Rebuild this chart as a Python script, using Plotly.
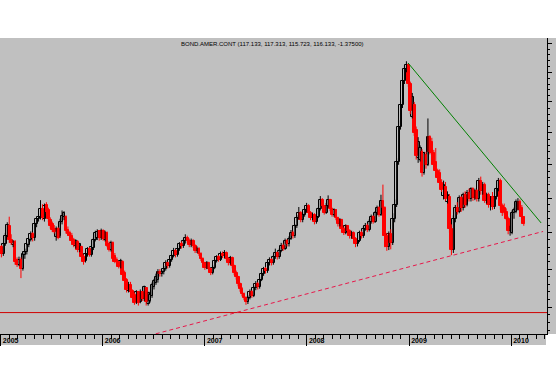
import numpy as np
import pandas as pd
import plotly.graph_objects as go

# weekly candles, Jan 2005 - Feb 2010
dates = pd.date_range("2005-01-03", periods=268, freq="7D")

opens = [113.0,112.0,113.4,114.6,116.0,114.0,113.3,113.7,111.2,110.6,111.3,110.0,111.9,112.4,113.3,114.0,114.9,114.3,116.2,116.9,
117.2,118.4,116.9,119.0,118.2,116.8,116.2,115.6,114.4,115.6,114.5,116.6,117.2,117.3,115.4,115.0,114.6,114.0,113.1,113.7,
112.6,113.0,111.7,111.1,112.1,112.8,111.9,112.9,114.0,114.3,115.2,114.3,115.3,114.0,115.0,113.4,112.6,113.6,111.8,111.3,
111.0,110.4,110.9,109.5,108.5,107.1,107.9,107.1,106.6,105.7,106.9,105.6,107.0,106.0,107.5,105.4,105.8,106.4,107.6,108.2,
108.6,109.6,109.3,109.6,110.0,110.8,110.4,111.3,111.8,112.5,111.9,112.8,113.4,113.1,113.8,114.3,113.9,113.3,113.9,113.2,
112.5,112.8,112.1,111.4,110.8,110.2,110.8,110.0,109.5,110.2,111.1,111.6,111.3,112.1,111.8,112.2,111.4,110.8,111.5,110.4,
109.5,108.9,108.0,107.3,106.7,106.2,105.7,106.2,107.0,106.5,107.5,108.0,107.6,108.6,109.4,110.0,109.7,110.8,111.3,110.8,
111.6,112.2,111.6,112.5,113.2,112.8,113.9,113.4,114.2,115.0,114.5,115.9,117.1,117.9,116.8,117.6,118.2,118.9,117.9,117.1,
117.6,116.5,117.3,118.4,119.7,118.8,117.9,118.9,119.7,118.4,117.6,118.2,117.1,116.2,116.8,115.6,115.0,115.9,115.3,114.5,
115.0,114.2,113.4,113.9,115.0,114.5,115.6,116.0,115.4,116.6,117.2,116.6,117.8,118.5,117.6,119.6,118.5,114.5,113.0,114.8,
113.6,117.0,119.0,125.5,131.0,134.5,138.5,140.6,141.3,138.0,132.6,134.5,130.5,126.0,125.8,127.0,123.8,126.5,125.0,129.3,
128.5,126.8,125.5,124.0,123.8,122.2,120.3,121.6,119.5,120.2,115.6,112.6,117.0,118.6,118.0,120.0,118.5,120.5,119.0,120.8,
119.8,121.3,120.0,121.0,119.8,122.6,121.0,122.0,119.6,120.5,119.0,120.2,118.7,120.2,121.3,122.6,118.8,118.5,118.0,117.0,
115.2,115.0,117.8,118.0,118.5,119.5,118.6,117.2]

highs = [113.3,113.6,115.0,116.5,117.3,114.8,114.0,114.0,111.6,111.7,111.6,112.3,112.8,113.6,114.3,115.2,115.1,116.5,117.1,117.6,
119.7,119.1,119.2,119.4,118.6,117.2,116.6,116.1,115.9,115.8,117.0,118.2,118.1,117.5,115.9,115.3,115.0,114.3,114.1,114.0,
113.6,113.2,112.0,112.5,113.0,113.0,113.2,114.3,115.3,115.5,115.4,115.6,115.5,115.3,115.2,113.8,113.9,113.8,112.2,111.6,
111.1,111.4,111.2,109.8,108.8,108.3,108.3,107.3,106.9,107.2,107.1,107.3,107.1,107.8,107.6,107.0,107.0,108.2,108.7,109.4,
110.0,110.0,109.9,110.4,111.2,111.0,111.6,112.1,112.9,112.7,113.1,113.7,113.8,114.1,114.8,114.6,114.2,114.2,114.1,113.4,
113.1,113.0,112.3,111.6,111.0,111.1,111.0,110.2,110.5,111.4,111.9,111.9,112.4,112.4,112.6,112.4,111.6,111.8,111.7,110.6,
109.8,109.1,108.2,107.6,106.9,106.4,106.5,107.3,107.2,107.8,108.4,108.3,108.9,109.7,110.3,110.3,111.2,111.6,111.5,111.9,
112.8,112.4,112.8,113.6,113.5,114.2,114.1,114.5,115.4,115.3,116.2,117.5,118.7,118.1,117.9,118.6,119.3,119.1,118.1,117.9,
117.8,117.6,118.7,120.3,120.0,119.0,119.3,120.4,119.9,118.6,118.5,118.4,117.3,117.1,117.0,115.9,116.2,116.1,115.5,115.3,
115.2,114.4,114.2,115.3,115.3,115.9,116.4,116.3,116.9,117.6,117.5,118.1,118.9,118.8,120.5,122.0,118.8,115.0,115.2,115.5,
117.8,119.8,126.0,132.0,135.0,139.0,141.2,141.9,141.6,138.4,136.5,135.0,131.0,129.3,128.0,127.4,127.0,127.0,132.3,129.6,
129.2,127.3,127.6,124.4,124.3,122.8,122.6,122.4,121.0,120.6,116.2,117.5,119.0,119.4,120.4,120.3,120.8,121.0,121.2,121.4,
121.6,121.6,121.4,121.3,123.0,123.2,122.4,122.3,120.8,120.8,120.3,120.9,120.4,121.6,123.0,122.9,119.2,119.2,118.5,117.3,
116.0,118.2,118.6,119.8,120.0,119.8,119.0,117.4]

lows = [111.6,111.8,113.2,114.4,113.6,113.3,113.0,110.6,110.3,110.4,108.8,109.8,111.4,112.0,113.0,113.8,113.8,113.9,115.8,116.6,
116.9,116.8,116.6,117.7,116.5,115.6,115.1,114.9,113.9,114.1,114.3,116.2,116.8,114.9,114.6,114.3,113.6,113.0,112.8,112.3,
112.3,111.3,110.6,110.9,111.7,111.7,111.7,112.6,113.8,114.0,113.9,114.0,113.9,113.8,113.0,112.4,112.4,111.1,110.8,110.7,
110.1,110.1,108.9,108.0,106.9,106.9,106.7,105.9,105.3,105.4,105.2,105.5,105.8,105.8,105.2,105.2,105.6,106.2,107.3,107.9,
108.2,109.0,109.0,109.3,109.8,110.1,110.2,111.0,111.6,111.6,111.7,112.5,112.8,112.9,113.5,113.6,113.0,113.0,112.9,112.2,
112.2,111.8,111.1,110.5,109.9,110.0,109.7,109.2,109.3,110.0,110.9,111.0,111.1,111.5,111.5,111.1,110.5,110.6,110.1,109.2,
108.6,107.7,107.0,106.4,105.9,105.3,105.4,106.0,106.2,106.3,107.2,107.3,107.4,108.4,109.1,109.4,109.5,110.5,110.5,110.6,
111.4,111.3,111.4,112.3,112.5,112.6,113.1,113.1,114.0,114.2,114.3,115.7,116.9,116.5,116.5,117.3,117.9,117.6,116.8,116.8,
116.2,116.3,117.1,118.2,118.5,117.6,117.7,118.6,118.1,117.3,117.3,116.8,115.9,115.9,115.3,114.7,114.8,115.0,114.2,114.2,
113.9,113.0,113.1,113.7,114.2,114.3,115.3,115.1,115.2,116.3,116.3,116.4,117.5,117.3,117.4,118.0,113.0,112.5,112.6,112.7,
113.3,116.5,118.7,125.0,130.5,134.0,138.0,140.0,137.5,133.0,132.3,129.5,125.8,125.3,125.5,123.2,123.5,124.4,124.8,126.6,
126.3,124.5,123.5,122.6,121.8,120.9,119.8,119.6,119.2,115.0,111.9,112.2,116.5,117.6,117.8,118.0,118.2,118.6,118.8,119.5,
119.5,119.6,119.7,119.5,119.5,120.5,120.5,119.3,119.2,118.6,118.2,118.3,118.4,119.8,121.0,118.3,117.4,117.6,116.8,114.8,
114.6,114.8,117.0,117.8,118.2,117.8,116.8,116.0]

closes = [112.0,113.4,114.6,116.1,114.0,113.6,113.7,110.9,110.5,111.3,110.0,112.0,112.4,113.5,114.1,114.9,114.3,116.2,116.9,117.2,
118.4,117.1,118.8,118.0,116.9,115.9,115.4,115.1,115.6,114.3,116.6,117.4,117.8,115.3,114.9,114.6,113.9,113.3,113.8,112.6,
113.4,111.6,110.9,112.1,112.8,111.9,113.0,114.0,115.0,115.1,114.3,115.2,114.1,115.0,113.2,112.6,113.6,111.4,111.0,110.9,
110.3,111.1,109.2,108.4,107.2,107.9,106.9,106.2,105.5,106.9,105.5,106.8,106.0,107.6,105.6,106.8,106.6,107.9,108.4,108.9,
109.6,109.3,109.6,110.0,110.8,110.4,111.3,111.8,112.5,111.9,112.8,113.4,113.1,113.8,114.3,113.9,113.3,113.9,113.2,112.5,
112.8,112.1,111.4,110.8,110.2,110.8,110.0,109.5,110.2,111.1,111.6,111.3,112.1,111.8,112.2,111.4,110.8,111.5,110.4,109.5,
108.9,108.0,107.3,106.7,106.2,105.7,106.2,107.0,106.5,107.5,108.0,107.6,108.6,109.4,110.0,109.7,110.8,111.3,110.8,111.6,
112.2,111.6,112.5,113.2,112.8,113.9,113.4,114.2,115.0,114.5,115.9,117.1,117.9,116.8,117.6,118.2,118.9,117.9,117.1,117.6,
116.5,117.3,118.4,119.7,118.8,117.9,118.9,119.7,118.4,117.6,118.2,117.1,116.2,116.8,115.6,115.0,115.9,115.3,114.5,115.0,
114.2,113.4,113.9,115.0,114.5,115.6,116.0,115.4,116.6,117.2,116.6,117.8,118.5,117.6,119.6,118.5,114.5,113.0,114.8,113.6,
117.0,119.0,125.5,131.0,134.5,138.5,140.6,141.3,138.0,133.5,135.8,130.0,126.3,128.6,127.6,123.8,126.8,125.0,129.3,127.0,
126.8,125.0,124.0,123.0,122.2,121.2,122.0,119.9,120.4,115.6,112.6,117.0,118.6,118.0,120.0,118.5,120.5,119.0,120.8,119.8,
121.3,120.0,121.0,119.8,122.6,121.0,122.0,119.6,120.5,119.0,119.9,118.7,120.2,121.3,122.6,118.8,117.8,118.0,117.0,115.2,
115.8,117.8,118.3,119.4,119.5,118.2,117.2,116.3]

# trend lines and reference level
support_dates = ["2006-06-15", "2010-04-25"]
support_prices = [101.4, 115.2]
resist_dates = ["2008-12-28", "2010-04-18"]
resist_prices = [141.6, 116.4]
level_dates = ["2004-12-20", "2010-06-01"]
level_prices = [104.3, 104.3]

year_ticks = ["2005-01-01", "2006-01-01", "2007-01-01", "2008-01-01", "2009-01-01", "2010-01-01"]
year_labels = ["2005", "2006", "2007", "2008", "2009", "2010"]
price_ticks = [105, 110, 115, 120, 125, 130, 135, 140, 145]
price_minor = list(range(102, 146))

title_text = "BOND.AMER.CONT (117.133, 117.313, 115.723, 116.133, -1.37500)"

GRAY = "#C0C0C0"
BODY_MS = 10 * 86400000  # candle body width (10 days)

fig = go.Figure()
fig.add_trace(go.Scatter(x=level_dates, y=level_prices, mode="lines",
                         line=dict(color="#D00000", width=1), hoverinfo="skip"))

for up, col, fill in [(True, "#000000", GRAY), (False, "#FF0000", "#FF0000")]:
    idx = [i for i in range(len(closes)) if (closes[i] >= opens[i]) == up]
    wx, wy = [], []
    for i in idx:
        wx += [dates[i], dates[i], None]
        wy += [lows[i], highs[i], None]
    fig.add_trace(go.Scatter(x=wx, y=wy, mode="lines", line=dict(color=col, width=1),
                             hoverinfo="skip", connectgaps=False))
    fig.add_trace(go.Bar(
        x=[dates[i] for i in idx],
        base=[min(opens[i], closes[i]) for i in idx],
        y=[max(abs(closes[i] - opens[i]), 0.05) for i in idx],
        width=BODY_MS,
        marker=dict(color=fill, line=dict(color=col, width=1)),
        hoverinfo="skip"))

fig.add_trace(go.Scatter(x=support_dates, y=support_prices, mode="lines",
                         line=dict(color="#E8174A", width=1, dash="4px,3px"), hoverinfo="skip"))
fig.add_trace(go.Scatter(x=resist_dates, y=resist_prices, mode="lines",
                         line=dict(color="#008000", width=1), hoverinfo="skip"))

W, H = 556, 387
L, R, T, B = 0, 9, 38, 53
pw, ph = W - L - R, H - T - B

fig.add_shape(type="rect", xref="paper", yref="paper", x0=0, x1=W / pw, y0=0, y1=1,
              fillcolor=GRAY, line=dict(width=0), layer="below")
fig.add_shape(type="rect", xref="paper", yref="paper", x0=0, x1=546 / pw, y0=-11 / ph, y1=0,
              fillcolor=GRAY, line=dict(width=0), layer="below")

fig.add_annotation(text=title_text, xref="paper", yref="paper", x=272 / pw, y=1 - 6 / ph,
                   showarrow=False, font=dict(family="Liberation Sans", size=6, color="#000000"),
                   xanchor="center", yanchor="middle")

fig.update_layout(
    width=W, height=H, margin=dict(l=L, r=R, t=T, b=B, pad=0),
    template="none", barmode="overlay", bargap=0,
    paper_bgcolor="#FFFFFF", plot_bgcolor=GRAY,
    showlegend=False,
    xaxis=dict(type="date", range=["2004-12-29", "2010-05-09"],
               showgrid=False, zeroline=False, showline=True, linecolor="#000000", linewidth=1,
               ticks="outside", ticklen=11, tickwidth=1, tickcolor="#000000",
               tickvals=year_ticks, ticktext=["<b>%s</b>" % s for s in year_labels],
               ticklabelposition="outside right", ticklabelstandoff=0, ticklabelshift=1,
               tickfont=dict(family="Liberation Sans", size=7, color="#000000"),
               minor=dict(ticks="outside", ticklen=4, tickcolor="#000000", dtick="M1",
                          tick0="2005-01-01", showgrid=False),
               automargin=False, fixedrange=True),
    yaxis=dict(type="log", side="right", range=[np.log10(101.6), np.log10(146.0)],
               showgrid=False, zeroline=False, showline=True, linecolor="#000000", linewidth=1,
               ticks="outside", ticklen=4, tickcolor="#000000", tickvals=price_ticks,
               showticklabels=False,
               minor=dict(ticks="outside", ticklen=2, tickcolor="#000000", tickvals=price_minor,
                          showgrid=False),
               automargin=False, fixedrange=True),
)

fig.write_html("out.html", config={"displayModeBar": False},
               post_script="document.body.style.margin='0px';")
